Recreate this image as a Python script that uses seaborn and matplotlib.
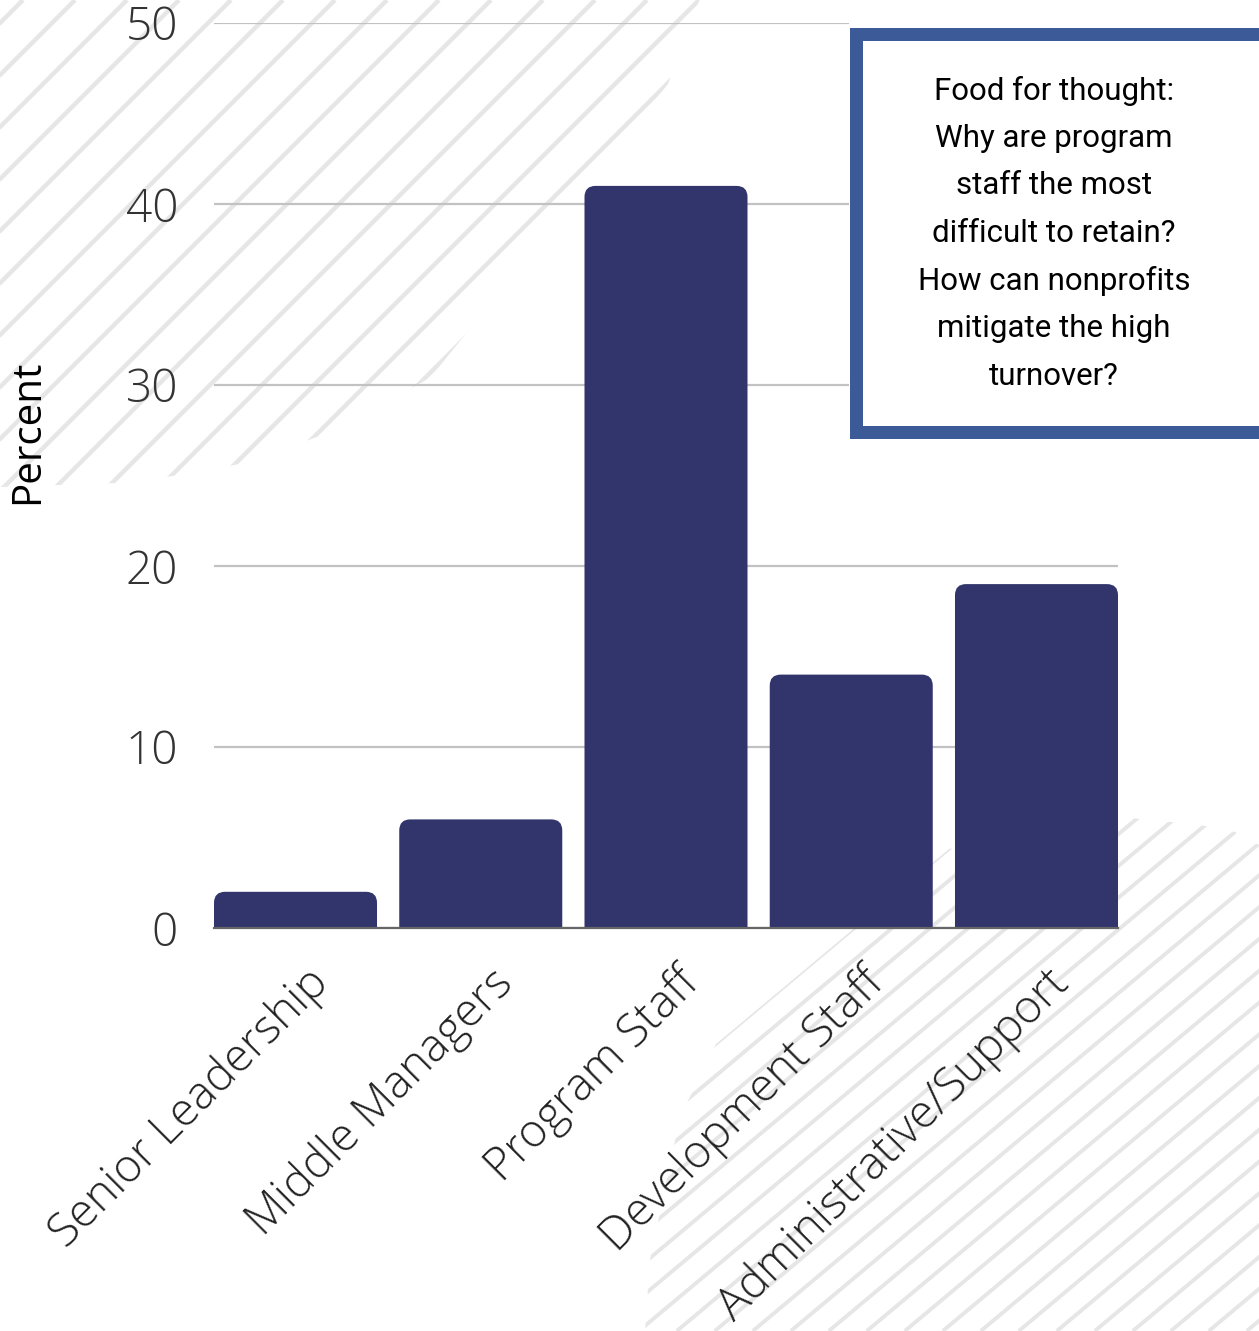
import numpy as np
import pandas as pd
import matplotlib
matplotlib.use("Agg")
import matplotlib.pyplot as plt
import matplotlib.transforms as mtransforms
from matplotlib.patches import Polygon, Rectangle, FancyBboxPatch
from matplotlib.collections import LineCollection
import seaborn as sns

# ---- data ----
categories = ["Senior Leadership", "Middle Managers", "Program Staff",
              "Development Staff", "Administrative/Support"]
percent = [2, 6, 41, 14, 19]
y_ticks = [0, 10, 20, 30, 40, 50]
note_lines = ["Food for thought:", "Why are program", "staff the most",
              "difficult to retain?", "How can nonprofits",
              "mitigate the high", "turnover?"]

BAR = "#31356c"
BORDER = "#3d5a98"
STRIPE = "#e6e6e6"
GRID = "#c2c2c2"

W, H = 1259, 1331
DPI = 100

sns.set_theme(style="white")
plt.rcParams["font.family"] = ["Open Sans", "DejaVu Sans"]

fig = plt.figure(figsize=(W / DPI, H / DPI), dpi=DPI)
fig.patch.set_facecolor("white")

# ---- decorative striped background, in pixel coordinates ----
bg = fig.add_axes([0, 0, 1, 1], zorder=0)
bg.set_xlim(0, W)
bg.set_ylim(H, 0)
bg.axis("off")


def striped_region(points, slope, c0, step, lw):
    clip = Polygon(points, closed=True, facecolor="none", edgecolor="none",
                   transform=bg.transData)
    bg.add_patch(clip)
    # each stripe rises to the right: y = slope * (c - x)
    cs = c0 + step * np.arange(-80, 80)
    segs = [[(c - H / slope, H), (c, 0)] for c in cs]
    lc = LineCollection(segs, colors=STRIPE, linewidths=lw,
                        capstyle="butt")
    bg.add_collection(lc)
    lc.set_clip_path(clip)


striped_region([(0, 0), (700, 0), (697, 6), (668, 84), (430, 378),
                (330, 432), (250, 462), (180, 475), (116, 483), (0, 487)],
               slope=1.0, c0=751, step=52, lw=3.2)
striped_region([(1259, 1331), (1259, 845), (1235, 832), (1200, 825),
                (1120, 817), (949, 849), (716, 1044), (680, 1117),
                (650, 1260), (645, 1331)],
               slope=0.837, c0=1963, step=38, lw=2.8)

# ---- bar chart ----
ax = fig.add_axes([214 / W, 1 - 928 / H, 904 / W, 905 / H], zorder=1)
ax.patch.set_alpha(0)

df = pd.DataFrame({"category": categories, "percent": percent})
sns.barplot(data=df, x="category", y="percent", color=BAR, saturation=1,
            width=0.88, ax=ax)

ax.set_xlim(-0.44, len(categories) - 0.56)
ax.set_ylim(0, 50)
ax.set_yticks(y_ticks)
ax.yaxis.grid(True, color=GRID, linewidth=1.6)
ax.xaxis.grid(False)
ax.set_axisbelow(True)
for side in ["left", "right", "top"]:
    ax.spines[side].set_visible(False)
ax.spines["bottom"].set_color("#666666")
ax.spines["bottom"].set_linewidth(1.6)
ax.spines["bottom"].set_zorder(3)

# replace square bar tops with rounded ones
fig.canvas.draw()
inv = ax.transData.inverted()
px_x = inv.transform((1, 0))[0] - inv.transform((0, 0))[0]
px_y = abs(inv.transform((0, 0))[1] - inv.transform((0, 1))[1])
radius_px = 11
rx = radius_px * px_x
ry = radius_px * px_y
for p in list(ax.patches):
    x, w, h = p.get_x(), p.get_width(), p.get_height()
    p.remove()
    ax.add_patch(FancyBboxPatch((x, -ry), w, h + ry,
                                boxstyle=f"round,pad=0,rounding_size={rx}",
                                mutation_aspect=ry / rx,
                                facecolor=BAR, edgecolor="none", zorder=2))

# tick labels
ax.tick_params(axis="y", length=0, pad=26, labelsize=33, labelcolor="#333333")
for lab in ax.get_yticklabels():
    lab.set_fontweight("light")

ax.set_xticks(range(len(categories)))
ax.set_xticklabels(categories, rotation=45, ha="right", va="center",
                   rotation_mode="anchor", fontsize=33, fontweight="light",
                   color="#222222")
ax.tick_params(axis="x", length=0, pad=35)
shift = mtransforms.ScaledTranslation(26 / DPI, 0, fig.dpi_scale_trans)
for lab in ax.get_xticklabels():
    lab.set_transform(lab.get_transform() + shift)

ax.set_xlabel("")
ax.set_ylabel("Percent", fontsize=29, color="black")
ax.yaxis.label.set_va("center")
ax.yaxis.set_label_coords((28 - 214) / 904, (928 - 432) / 905)

# ---- note box on a white card ----
card = Rectangle((849 / W, 1 - 445 / H), (W - 849) / W, 445 / H,
                 transform=fig.transFigure, facecolor="white",
                 edgecolor="none", zorder=4)
fig.patches.append(card)
box = Rectangle((855.5 / W, 1 - 431.5 / H), (1270 - 855.5) / W,
                (431.5 - 33.5) / H, transform=fig.transFigure,
                facecolor="white", edgecolor=BORDER, linewidth=13 * 72 / DPI,
                zorder=5)
fig.patches.append(box)
y0, dy = 91, 47.5
for i, line in enumerate(note_lines):
    fig.text(1054 / W, 1 - (y0 + i * dy) / H, line, ha="center",
             va="center", fontsize=22.5, family=["Roboto", "DejaVu Sans"],
             color="black", zorder=6)

fig.savefig("out.png", dpi=DPI, facecolor="white")
